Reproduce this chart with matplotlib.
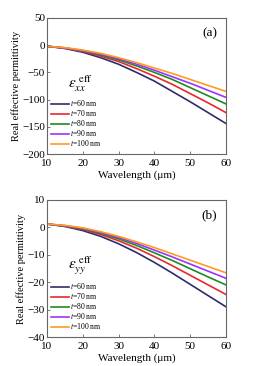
import matplotlib.pyplot as plt

plt.rcParams['font.family'] = ['Liberation Serif', 'DejaVu Serif']
plt.rcParams['mathtext.fontset'] = 'stix'

wavelength = [10, 15, 20, 25, 30, 35, 40, 45, 50, 55, 60]
thickness = [60, 70, 80, 90, 100]
colors = ['#2d2d6e', '#e8282c', '#1c8c1c', '#9933ff', '#ff9a22']

# panel (a): Re(eps_xx)
eps_xx = [
    [-2, -6, -13, -23, -35, -50, -66, -85, -104, -124, -144],
    [-2, -5.5, -11.5, -20, -30, -43, -57, -72, -89, -106, -124],
    [-2, -5, -10.5, -18, -27, -38, -50, -63, -78, -93, -108],
    [-2, -5, -10, -16.5, -25, -35, -46, -58, -70, -83, -96],
    [-2, -4.5, -9, -15, -23, -32, -42, -52, -63, -74, -85],
]

# panel (b): Re(eps_yy)
eps_yy = [
    [1.2, 0.3, -1.2, -3.3, -6, -9.2, -12.8, -16.7, -20.8, -24.9, -29],
    [1.2, 0.4, -0.8, -2.6, -4.9, -7.6, -10.7, -14, -17.5, -21, -24.5],
    [1.2, 0.5, -0.6, -2.2, -4.2, -6.6, -9.3, -12.1, -15.1, -18.1, -21],
    [1.2, 0.6, -0.4, -1.9, -3.7, -5.9, -8.3, -10.8, -13.4, -16, -18.6],
    [1.2, 0.7, -0.2, -1.6, -3.3, -5.3, -7.4, -9.7, -12, -14.3, -16.6],
]

fig = plt.figure(figsize=(2.62, 3.66), dpi=100)
ax_a = fig.add_axes([0.179, 0.579, 0.684, 0.372])
ax_b = fig.add_axes([0.179, 0.079, 0.684, 0.375])


def style_panel(ax, data, ylim, yticks, tag, comp):
    for t, c, y in zip(thickness, colors, data):
        ax.plot(wavelength, y, color=c, lw=1.2, label=f'$t$=%d nm' % t)
    ax.set_xlim(10, 60)
    ax.set_ylim(*ylim)
    ax.set_xticks([10, 20, 30, 40, 50, 60])
    ax.set_yticks(yticks)
    ax.tick_params(direction='in', length=2.5, width=0.6, labelsize=8,
                   color='#666666')
    ax.tick_params(axis='x', pad=3.5)
    ax.tick_params(axis='y', pad=1.5)
    for s in ax.spines.values():
        s.set_color('#666666')
        s.set_linewidth(0.8)
    ax.set_xlabel('Wavelength (μm)', fontsize=8, labelpad=2)
    ax.set_ylabel('Real effective permittivity', fontsize=7.5, labelpad=1)
    ax.text(0.95, 0.93, tag, transform=ax.transAxes, ha='right', va='top', fontsize=9.5)
    ax.text(0.12, 0.52, r'$\varepsilon_{%s}^{\ \rm eff}$' % comp, transform=ax.transAxes,
            ha='left', va='center', fontsize=11)
    ax.legend(loc='lower left', bbox_to_anchor=(-0.01, 0.0), frameon=False,
              fontsize=5.5, handlelength=2.4, handletextpad=0.15,
              labelspacing=0.0, borderaxespad=0.35)


style_panel(ax_a, eps_xx, (-200, 50), [50, 0, -50, -100, -150, -200], '(a)', 'xx')
style_panel(ax_b, eps_yy, (-40, 10), [10, 0, -10, -20, -30, -40], '(b)', 'yy')

fig.savefig('out.png', dpi=100)
